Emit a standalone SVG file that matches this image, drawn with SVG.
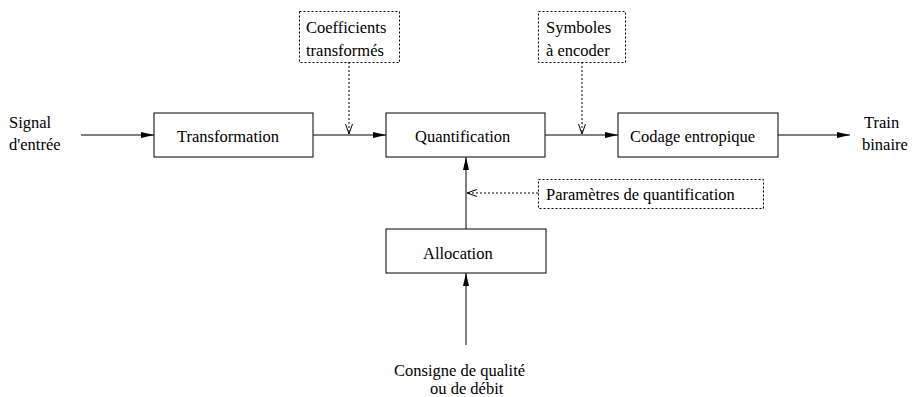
<svg xmlns="http://www.w3.org/2000/svg" width="912" height="397" viewBox="0 0 912 397">
<defs>
<style>
.box{fill:#fff;stroke:#000;stroke-width:1}
.dbox{fill:none;stroke:#000;stroke-width:1;stroke-dasharray:2 2}
.ln{fill:none;stroke:#000;stroke-width:1}
.dl{fill:none;stroke:#000;stroke-width:1;stroke-dasharray:2 2}
</style>
<marker id="ah" markerWidth="14" markerHeight="8" refX="13" refY="4" orient="auto" markerUnits="userSpaceOnUse">
<path d="M0,1 L13,4 L0,7 Z" fill="#000"/>
</marker>
<marker id="oh" markerWidth="12" markerHeight="10" refX="10" refY="5" orient="auto" markerUnits="userSpaceOnUse">
<path d="M0,1.5 L10,5 L0,8.5" fill="none" stroke="#000" stroke-width="1"/>
</marker>
</defs>
<g id="connectors">
<line class="ln" x1="81" y1="135" x2="154" y2="135" marker-end="url(#ah)"/>
<line class="ln" x1="313" y1="135" x2="386" y2="135" marker-end="url(#ah)"/>
<line class="ln" x1="545" y1="135" x2="618" y2="135" marker-end="url(#ah)"/>
<line class="ln" x1="778" y1="135" x2="850" y2="135" marker-end="url(#ah)"/>
<line class="ln" x1="466" y1="229" x2="466" y2="157" marker-end="url(#ah)"/>
<line class="ln" x1="466" y1="345" x2="466" y2="273" marker-end="url(#ah)"/>
<line class="dl" x1="349" y1="62" x2="349" y2="134" marker-end="url(#oh)"/>
<line class="dl" x1="582" y1="62" x2="582" y2="134" marker-end="url(#oh)"/>
<line class="dl" x1="538" y1="193" x2="467" y2="193" marker-end="url(#oh)"/>
</g>
<g id="transformation"><rect class="box" x="154" y="113" width="159" height="44"/><text font-family="Liberation Serif" font-size="16.5" x="177" y="142">Transformation</text></g>
<g id="quantification"><rect class="box" x="386" y="113" width="159" height="44"/><text font-family="Liberation Serif" font-size="16.5" x="415" y="142">Quantification</text></g>
<g id="codage"><rect class="box" x="618" y="113" width="160" height="44"/><text font-family="Liberation Serif" font-size="16.5" x="630" y="142">Codage entropique</text></g>
<g id="allocation"><rect class="box" x="386" y="229" width="160" height="44"/><text font-family="Liberation Serif" font-size="16.5" x="423" y="259">Allocation</text></g>
<g id="coefficients"><rect class="dbox" x="299.5" y="11.5" width="100" height="51"/><text font-family="Liberation Serif" font-size="16.5" x="306" y="33">Coefficients</text><text font-family="Liberation Serif" font-size="16.5" x="306" y="56">transformés</text></g>
<g id="symboles"><rect class="dbox" x="538.5" y="11.5" width="87" height="51"/><text font-family="Liberation Serif" font-size="16.5" x="546" y="33">Symboles</text><text font-family="Liberation Serif" font-size="16.5" x="546" y="56">à encoder</text></g>
<g id="parametres"><rect class="dbox" x="538.5" y="179.5" width="225" height="29"/><text font-family="Liberation Serif" font-size="16.5" x="546" y="200">Paramètres de quantification</text></g>
<g id="signal"><text font-family="Liberation Serif" font-size="16.5" x="9" y="128">Signal</text><text font-family="Liberation Serif" font-size="16.5" x="9" y="150">d'entrée</text></g>
<g id="train"><text font-family="Liberation Serif" font-size="16.5" x="864" y="128">Train</text><text font-family="Liberation Serif" font-size="16.5" x="862" y="150">binaire</text></g>
<g id="consigne"><text font-family="Liberation Serif" font-size="16.5" x="394" y="376">Consigne de qualité</text><text font-family="Liberation Serif" font-size="16.5" x="430" y="394">ou de débit</text></g>
</svg>
